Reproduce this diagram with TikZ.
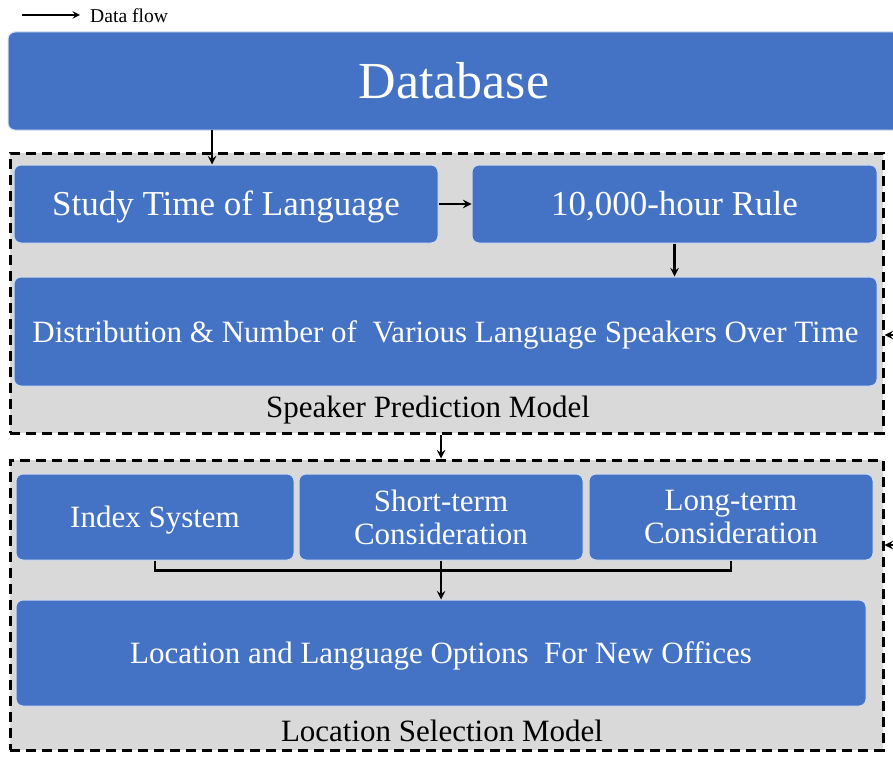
\documentclass[tikz,border=0pt]{standalone}
\usepackage{fontspec}
\setmainfont{Liberation Serif}
\usepackage{tikz}

\definecolor{boxblue}{HTML}{4472C4}
\definecolor{framegray}{HTML}{D9D9D9}

\begin{document}
\begin{tikzpicture}[
				x=1pt, y=-1pt,
				>=stealth,
				bluebox/.style={
					draw=white!75!boxblue,
					line width=1pt,
					fill=boxblue,
					rounded corners=7pt,
					text=white,
					align=center,
					inner sep=0pt
				},
				modelframe/.style={
					draw=black,
					fill=framegray,
					line width=3pt,
					dash pattern=on 10pt off 6pt,
					inner sep=0pt
				},
				flow/.style={->, line width=2.7pt},
				bigtext/.style={font=\fontsize{35}{40}\selectfont, text height=28pt, text depth=5pt},
				midtext/.style={font=\fontsize{31}{33}\selectfont},
				lowtext/.style={midtext, text height=25pt, text depth=4pt}
				]
				\clip (0,0) rectangle (893,760);
				\fill[white] (0,0) rectangle (893,760);

				% Legend
				\coordinate (legstart) at (22,15);
				\node[anchor=west, inner sep=0pt, font=\fontsize{19.6}{22}\selectfont] (legend) at (90,16) {Data flow};
				\draw[->, line width=2.2pt] (legstart) -- (legstart -| 80,0);

				% Database
				\node[bluebox, minimum width=892, minimum height=98, font=\fontsize{52}{58}\selectfont] (db) at (454,81) {Database};

				% Speaker prediction model
				\node[modelframe, minimum width=873, minimum height=280] (frame1) at (446.5,293) {};
				\node[bluebox, bigtext, minimum width=424, minimum height=78] (study) at (226,204) {Study Time of Language};
				\node[bluebox, bigtext, minimum width=405, minimum height=78] (rule) at (674.5,204) {10,000-hour Rule};
				\node[bluebox, lowtext, minimum width=863, minimum height=109] (dist) at (445.5,331.5) {Distribution \& Number of\ \ Various Language Speakers Over Time};
				\node[midtext, inner sep=0pt] (label1) at (428,410) {Speaker Prediction Model};

				% Location selection model
				\node[modelframe, minimum width=873, minimum height=290] (frame2) at (446.5,605) {};
				\node[bluebox, lowtext, minimum width=278, minimum height=86] (index) at (155,517) {Index System};
				\node[bluebox, midtext, minimum width=284, minimum height=86] (short) at (441,517) {Short-term\\Consideration};
				\node[bluebox, midtext, minimum width=284, minimum height=86] (long) at (731,517) {Long-term\\Consideration};
				\node[bluebox, lowtext, minimum width=850, minimum height=106] (location) at (441,653) {Location and Language Options\ \ For New Offices};
				\node[midtext, inner sep=0pt] (label2) at (442,731) {Location Selection Model};

				% Data flow
				\coordinate (dbout) at (212,130);
				\draw[flow] (dbout) -- (dbout |- study.north);
				\draw[flow] (study.east) -- (rule.west);
				\draw[flow] (rule.south) -- (dist.north -| rule.south);
				\draw[flow] (short.north |- frame1.south) -- (frame2.north -| short.north);
				\draw[line width=2.7pt] (index.south) -- ++(0,10) -| (long.south);
				\draw[flow] (short.south) -- (location.north -| short.south);

				% Inputs from the right
				\coordinate (in1) at (897,335);
				\coordinate (in2) at (897,545);
				\draw[flow] (in1) -- (in1 -| frame1.east);
				\draw[flow] (in2) -- (in2 -| frame2.east);
			\end{tikzpicture}
\end{document}
